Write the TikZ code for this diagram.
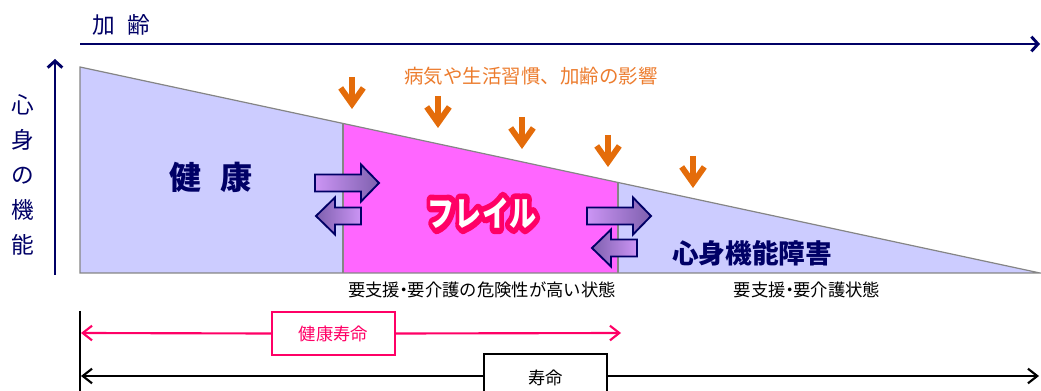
\documentclass[tikz,border=0pt]{standalone}
\usepackage{fontspec}
\setmainfont{Noto Sans CJK JP}
\usetikzlibrary{arrows.meta, positioning, calc}

\definecolor{navy}{HTML}{000066}
\definecolor{lavender}{HTML}{CCCCFF}
\definecolor{frailpink}{HTML}{FF66FF}
\definecolor{rimgray}{HTML}{858585}
\definecolor{cause}{HTML}{E46C0A}
\definecolor{causetext}{HTML}{EC7C2E}
\definecolor{hotpink}{HTML}{FF0066}
\definecolor{lightpurple}{HTML}{CC95F5}
\definecolor{darkpurple}{HTML}{7E60AE}

% white letters with a wide pink rim
\newcommand{\rimtext}[1]{%
  \rlap{\color{hotpink}\special{pdf:literal direct 2 Tr 9 w 1 j 1 0 0.4 RG}#1\special{pdf:literal direct 0 Tr 1 w}}#1}
% narrow middle dot
\newcommand{\ndot}{\kern-0.28em・\kern-0.28em}

\tikzset{
  goarrow/.pic = {
    \shadedraw[move, left color = lightpurple, right color = darkpurple]
      (0,-8.5) -- (46,-8.5) -- (46,-18.5) -- (64,0) -- (46,18.5) -- (46,8.5) -- (0,8.5) -- cycle;
  },
  backarrow/.pic = {
    \shadedraw[move, left color = darkpurple, right color = lightpurple]
      (0,0) -- (19,-18.5) -- (19,-8.5) -- (45,-8.5) -- (45,8.5) -- (19,8.5) -- (19,18.5) -- cycle;
  }
}

\begin{document}
\begin{tikzpicture}[x = 0.75pt, y = -0.75pt, font = \fontsize{13pt}{15pt}\selectfont,
  axis/.style = {draw = navy, line width = 2.2pt, -{Straight Barb[length = 5pt, width = 11pt]}},
  region/.style = {draw = rimgray, line width = 0.9pt},
  move/.style = {draw = navy, line width = 1.4pt, line join = miter},
  causearrow/.style = {draw = cause, line width = 4.4pt, -{Straight Barb[length = 12pt, width = 17pt]}},
  span/.style = {line width = 1.6pt, {Straight Barb[length = 7pt, width = 11pt]}-},
  spanbox/.style = {draw, line width = 1.6pt, fill = white, minimum width = 92pt, inner sep = 0pt}]
  \useasboundingbox (0,0) rectangle (1041,391);

  % axes
  \node (aging) [text = navy, font = \fontsize{17pt}{17pt}\selectfont] at (121,25) {加\hspace{0.55em}齢};
  \coordinate (age0) at (80,44);
  \coordinate (age1) at (1040,44);
  \draw[axis] (age0) -- (age1);
  \coordinate (fn0) at (55,275);
  \coordinate (fn1) at (55,59);
  \draw[axis] (fn0) -- (fn1);
  \node (function) [text = navy, align = center, font = \fontsize{17pt}{26.3pt}\selectfont] at (23,175) {心\\身\\の\\機\\能};

  % regions
  \coordinate (top) at (80,67);
  \coordinate (corner) at (1040,273);
  \coordinate (f0) at ($(top)!0.274!(corner)$);
  \coordinate (f1) at ($(top)!0.5604!(corner)$);
  \fill[lavender] (top) -- (f0) -- (f0 |- corner) -- (top |- corner) -- cycle;
  \fill[frailpink] (f0) -- (f1) -- (f1 |- corner) -- (f0 |- corner) -- cycle;
  \fill[lavender] (f1) -- (corner) -- (f1 |- corner) -- cycle;
  \draw[region] (top) -- (corner) -- (top |- corner) -- cycle;
  \draw[region] (f0) -- (f0 |- corner);
  \draw[region] (f1) -- (f1 |- corner);

  \node (healthy) [text = navy, font = \fontsize{24pt}{24pt}\bfseries] at (211,177) {健\hspace{0.6em}康};
  \node (disability) [text = navy, font = \fontsize{20pt}{20pt}\bfseries] at (752,253) {心身機能障害};
  \node (frail) [text = white, font = \fontsize{26pt}{26pt}\bfseries] at (482,213) {\scalebox{0.78}[1]{\rimtext{フレイル}}};

  % shifts between states
  \pic at (315,183) {goarrow};
  \pic at (316,216) {backarrow};
  \pic at (587,216) {goarrow};
  \pic at (592,248) {backarrow};

  % causes
  \node (causes) [text = causetext, font = \fontsize{14.6pt}{15pt}\selectfont] at (531,76) {病気や生活習慣、加齢の影響};
  \foreach \x/\y in {352/77, 438/96, 522/117, 608/135, 693/156}
    \draw[causearrow] (\x,\y) -- ++(0,32);

  \node (risk) at (482,290) {要支援\ndot 要介護の危険性が高い状態};
  \node (care) at (807,290) {要支援\ndot 要介護状態};

  % life spans
  \draw[line width = 1.5pt] (80,311) -- (80,391);
  \node (healthylife) [spanbox, draw = hotpink, text = hotpink, minimum height = 32pt] at (333.5,333.5) {健康寿命};
  \coordinate (hl0) at (81,333);
  \coordinate (hl1) at (621,333);
  \draw[span, hotpink] (hl0) -- (healthylife.west);
  \draw[span, hotpink] (hl1) -- (healthylife.east);

  \node (life) [spanbox, minimum height = 36pt] at (545.5,378) {寿命};
  \coordinate (l0) at (81,376);
  \coordinate (l1) at (1039,376);
  \draw[span] (l0) -- (life.west |- l0);
  \draw[span] (l1) -- (life.east |- l1);
\end{tikzpicture}
\end{document}
